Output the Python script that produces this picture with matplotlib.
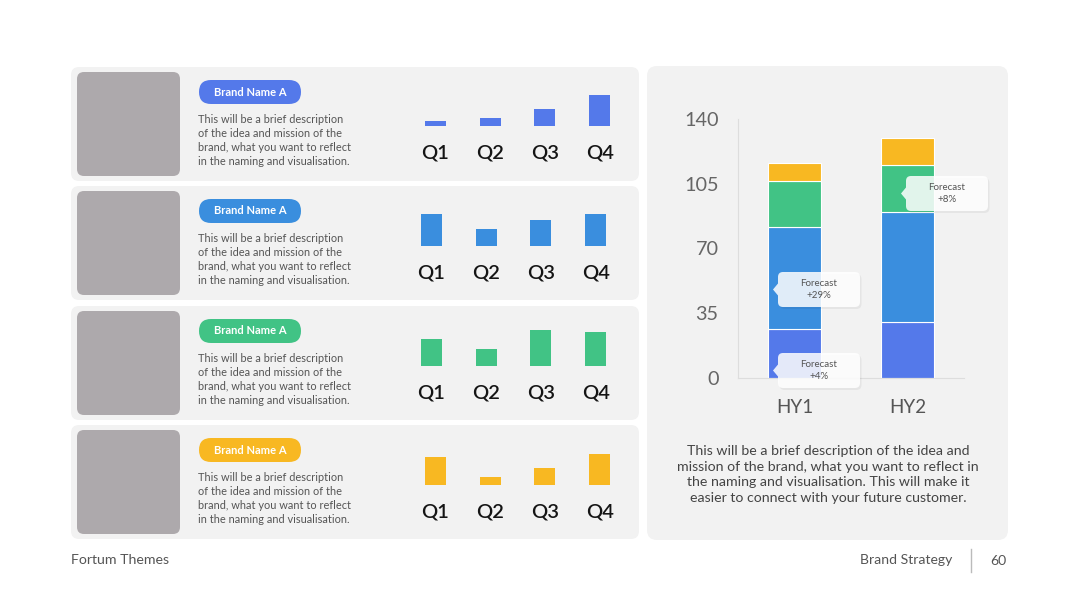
import matplotlib
matplotlib.use("Agg")
import matplotlib.pyplot as plt
from matplotlib.patches import FancyBboxPatch, Polygon
import numpy as np

plt.rcParams['font.family'] = ['Lato', 'DejaVu Sans']

# ---------------- data ----------------
quarters = ["Q1", "Q2", "Q3", "Q4"]
brand_names = ["Brand Name A", "Brand Name A", "Brand Name A", "Brand Name A"]
brand_a1 = [5, 8, 17, 31]
brand_a2 = [32, 17, 26, 32]
brand_a3 = [27, 17, 36, 34]
brand_a4 = [28, 8, 17, 31]
brand_desc = ("This will be a brief description\nof the idea and mission of the\n"
              "brand, what you want to reflect\nin the naming and visualisation.")

halves = ["HY1", "HY2"]
seg_blue1 = [26.5, 30.0]
seg_blue2 = [55.0, 59.5]
seg_green = [25.0, 25.5]
seg_yellow = [9.5, 14.5]
y_ticks = [0, 35, 70, 105, 140]
callouts = [("Forecast\n+4%", 0), ("Forecast\n+29%", 0), ("Forecast\n+8%", 1)]
main_desc = ("This will be a brief description of the idea and\nmission of the brand, what you want to reflect in\n"
             "the naming and visualisation. This will make it\neasier to connect with your future customer.")
footer_left = "Fortum Themes"
footer_right = "Brand Strategy"
page_no = "60"

# ---------------- style ----------------
C_BLUE1 = "#5479EA"
C_BLUE2 = "#3A8EDE"
C_GREEN = "#41C385"
C_YELLOW = "#F8B822"
PANEL = "#F2F2F2"
PLACE = "#ADA9AC"

W, H = 1080, 608
fig = plt.figure(figsize=(10.8, 6.08), dpi=100, facecolor="white")

def fa(x, y, w, h):
    """pixel box (left, top, width, height) -> figure fraction rect"""
    return [x / W, 1 - (y + h) / H, w / W, h / H]

bg = fig.add_axes([0, 0, 1, 1], zorder=0)
bg.set_xlim(0, W); bg.set_ylim(H, 0); bg.axis("off")

def rbox(ax, x, y, w, h, r, color, **kw):
    p = FancyBboxPatch((x + r, y + r), w - 2 * r, h - 2 * r,
                       boxstyle=f"round,pad={r}", facecolor=color,
                       edgecolor="none", **kw)
    ax.add_patch(p)
    return p

# left panels
panel_tops = [67, 186, 306, 425]
panel_h = 114
brand_data = [brand_a1, brand_a2, brand_a3, brand_a4]
brand_colors = [C_BLUE1, C_BLUE2, C_GREEN, C_YELLOW]
baselines = [126, 246, 366, 485]
x_offsets = [408, 404, 404, 408]

for i, top in enumerate(panel_tops):
    rbox(bg, 71, top, 568, panel_h, 8, PANEL)
    rbox(bg, 77, top + 5, 103, panel_h - 10, 7, PLACE)
    rbox(bg, 199, top + 13, 102, 24, 12, brand_colors[i])
    bg.text(250, top + 25, brand_names[i], color="white", fontsize=8,
            fontweight="bold", ha="center", va="center")
    bg.text(198, top + 73.5, brand_desc, color="#555555", fontsize=7.95,
            ha="left", va="center", linespacing=1.3)

    ax = fig.add_axes(fa(x_offsets[i], baselines[i] - 40, 219, 40), zorder=2)
    ax.bar(np.arange(len(quarters)), brand_data[i], width=0.38,
           color=brand_colors[i])
    ax.set_xlim(-0.5, 3.5); ax.set_ylim(0, 40)
    ax.set_xticks(np.arange(len(quarters)))
    ax.set_xticklabels(quarters, fontsize=14.5, color="#151515", fontweight="semibold")
    ax.tick_params(axis="x", length=0, pad=13)
    ax.set_yticks([])
    for s in ax.spines.values():
        s.set_visible(False)
    ax.patch.set_alpha(0)

# right panel
rbox(bg, 647, 66, 361, 474, 10, PANEL)

axm = fig.add_axes(fa(738, 119, 226, 258.7), zorder=2)
xs = np.arange(len(halves))
bottom = np.zeros(len(halves))
for vals, col in [(seg_blue1, C_BLUE1), (seg_blue2, C_BLUE2),
                  (seg_green, C_GREEN), (seg_yellow, C_YELLOW)]:
    axm.bar(xs, vals, bottom=bottom, width=0.47, color=col,
            edgecolor="white", linewidth=0.8)
    bottom += np.array(vals)
axm.set_xlim(-0.5, 1.5); axm.set_ylim(0, 140)
axm.set_yticks(y_ticks)
axm.set_yticklabels([str(t) for t in y_ticks], fontsize=14.3, color="#666666")
axm.set_xticks(xs)
axm.set_xticklabels(halves, fontsize=13.5, color="#555555")
axm.tick_params(axis="y", length=0, pad=14)
axm.tick_params(axis="x", length=0, pad=15)
for k in ["top", "right"]:
    axm.spines[k].set_visible(False)
for k in ["left", "bottom"]:
    axm.spines[k].set_color("#DDDDDD")
    axm.spines[k].set_linewidth(0.8)
axm.patch.set_alpha(0)

# callouts overlay
ov = fig.add_axes([0, 0, 1, 1], zorder=5)
ov.set_xlim(0, W); ov.set_ylim(H, 0); ov.axis("off"); ov.patch.set_alpha(0)
callout_boxes = [(778, 353), (778, 272), (906, 176)]
for (txt, _), (bx, by) in zip(callouts, callout_boxes):
    bw, bh = 82, 35
    rbox(ov, bx + 1.5, by + 2, bw, bh, 5, "#000000", alpha=0.05)
    rbox(ov, bx, by, bw, bh, 5, "white", alpha=0.85)
    cy = by + bh / 2
    ov.add_patch(Polygon([[bx, cy - 6], [bx - 5, cy], [bx, cy + 6]],
                         closed=True, facecolor="white", alpha=0.85,
                         edgecolor="none"))
    ov.text(bx + bw / 2, cy, txt, fontsize=7, color="#555555",
            ha="center", va="center", linespacing=1.3)

bg.text(828, 474.5, main_desc, color="#444444", fontsize=10.2,
        ha="center", va="center", linespacing=1.38)

# footer
bg.text(71, 560, footer_left, color="#555555", fontsize=10.2, ha="left", va="center")
bg.text(952, 560, footer_right, color="#555555", fontsize=10.1, ha="right", va="center")
bg.plot([971, 971], [549, 572], color="#BBBBBB", lw=1)
bg.text(990, 561, page_no, color="#555555", fontsize=10.1, ha="left", va="center")

fig.savefig("out.png", dpi=100, facecolor="white")
